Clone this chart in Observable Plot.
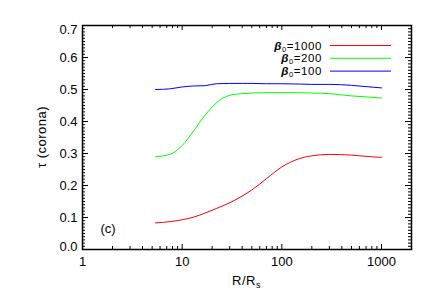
<!DOCTYPE html>
<html>
<head>
<meta charset="utf-8">
<script src="https://cdn.jsdelivr.net/npm/d3@7"></script>
<script src="https://cdn.jsdelivr.net/npm/@observablehq/plot@0.6"></script>
<style>
  html, body { margin: 0; padding: 0; background: #fff; }
  #chart svg { display: block; }
</style>
</head>
<body>
<div id="chart"></div>
<script>
// ---- data ----
const R = [5.4, 7.5, 10, 13, 17, 22, 30, 40, 50, 70, 100, 150, 200, 300, 500, 700, 1000];
const tauBeta1000 = [0.083, 0.087, 0.093, 0.101, 0.114, 0.128, 0.146, 0.167, 0.186, 0.221, 0.258, 0.284, 0.293, 0.297, 0.295, 0.291, 0.288];
const tauBeta200  = [0.290, 0.297, 0.325, 0.370, 0.420, 0.458, 0.482, 0.487, 0.489, 0.490, 0.490, 0.490, 0.489, 0.487, 0.480, 0.477, 0.473];
const tauBeta100  = [0.500, 0.502, 0.508, 0.511, 0.512, 0.518, 0.519, 0.519, 0.519, 0.518, 0.518, 0.517, 0.516, 0.516, 0.513, 0.509, 0.505];
const seriesNames = ["1000", "200", "100"];
const xTickValues = [1, 10, 100, 1000];
const yTickValues = [0.0, 0.1, 0.2, 0.3, 0.4, 0.5, 0.6, 0.7];
const panelLabel = "(c)";

// ---- layout / style ----
const W = 436, H = 300;
const M = {left: 82, right: 25, top: 25, bottom: 51};
const innerW = W - M.left - M.right, innerH = H - M.top - M.bottom;
const FONT = "'Liberation Sans', Arial, Helvetica, sans-serif";
const colors = ["#ff0000", "#00ff00", "#0000ff"];

const seriesValues = [tauBeta1000, tauBeta200, tauBeta100];
const rows = [];
seriesNames.forEach((s, i) => R.forEach((r, j) => rows.push({series: s, R: r, tau: seriesValues[i][j]})));

// minor tick positions (log decades, and 0.01 steps)
const xMinor = [];
for (const d of [1, 10, 100, 1000]) for (let k = 2; k <= 9; k++) if (d * k <= 2000) xMinor.push(d * k);
const yMinor = d3.range(0, 71).map(i => i / 100);

function decorations(index, scales, values, dims) {
  const g = d3.create("svg:g").attr("font-family", FONT).attr("font-size", 13).attr("fill", "black");
  const right = dims.width - dims.marginRight;
  // legend
  seriesNames.forEach((s, i) => {
    const y = dims.marginTop + 20.5 + i * 12.8;
    const t = g.append("text").attr("x", right - 89).attr("y", y + 4).attr("text-anchor", "end")
      .attr("font-size", 11.5).attr("letter-spacing", "0.6");
    t.append("tspan").attr("font-weight", "bold").attr("font-style", "italic").text("β");
    t.append("tspan").attr("font-size", 7.5).attr("dy", 2).text("0");
    t.append("tspan").attr("dy", -2).text("=" + s);
    g.append("line").attr("x1", right - 81).attr("x2", right - 20).attr("y1", y).attr("y2", y)
      .attr("stroke", colors[i]).attr("stroke-width", 1);
  });
  // x axis title
  const cx = (dims.marginLeft + right) / 2;
  const xt = g.append("text").attr("x", cx).attr("y", dims.height - 15).attr("text-anchor", "middle").attr("letter-spacing", "0.5");
  xt.append("tspan").text("R/R");
  xt.append("tspan").attr("font-size", 9).attr("dy", 3).text("s");
  // y axis title
  const cy = (dims.marginTop + dims.height - dims.marginBottom) / 2;
  const yt = g.append("text").attr("transform", `translate(46,${cy}) rotate(-90)`).attr("text-anchor", "middle").attr("letter-spacing", "0.5");
  yt.text("τ (corona)");
  return g.node();
}

const chart = Plot.plot({
  width: W, height: H,
  marginLeft: M.left, marginRight: M.right, marginTop: M.top, marginBottom: M.bottom,
  style: {fontFamily: FONT, fontSize: "13px", background: "white"},
  x: {type: "log", domain: [1, 2000], axis: null},
  y: {domain: [0, 0.7], axis: null},
  color: {domain: seriesNames, range: colors},
  marks: [
    Plot.line(rows, {x: "R", y: "tau", z: "series", stroke: "series", strokeWidth: 1, curve: "monotone-x"}),
    // ticks: bottom & top
    Plot.tickX(xTickValues, {x: d => d, insetTop: innerH - 5, stroke: "black"}),
    Plot.tickX(xTickValues, {x: d => d, insetBottom: innerH - 5, stroke: "black"}),
    Plot.tickX(xMinor, {x: d => d, insetTop: innerH - 3, stroke: "black"}),
    Plot.tickX(xMinor, {x: d => d, insetBottom: innerH - 3, stroke: "black"}),
    // ticks: left & right
    Plot.tickY(yMinor, {y: d => d, insetRight: innerW - 3, stroke: "black"}),
    Plot.tickY(yMinor, {y: d => d, insetLeft: innerW - 3, stroke: "black"}),
    Plot.tickY(yTickValues, {y: d => d, insetRight: innerW - 6, stroke: "black"}),
    Plot.tickY(yTickValues, {y: d => d, insetLeft: innerW - 6, stroke: "black"}),
    Plot.frame({stroke: "black", strokeWidth: 1.5}),
    // tick labels
    Plot.text(xTickValues, {x: d => d, frameAnchor: "bottom", dy: 16, text: d => String(d), fontSize: 13, letterSpacing: 0.5}),
    Plot.text(yTickValues.slice(1, -1), {y: d => d, frameAnchor: "left", dx: -5, textAnchor: "end", text: d => d.toFixed(1), fontSize: 13, letterSpacing: 0.5}),
    Plot.text(yTickValues.slice(-1), {y: d => d, frameAnchor: "left", dx: -5, dy: 4.5, textAnchor: "end", text: d => d.toFixed(1), fontSize: 13, letterSpacing: 0.5}),
    Plot.text(yTickValues.slice(0, 1), {y: d => d, frameAnchor: "left", dx: -5, dy: -3, textAnchor: "end", text: d => d.toFixed(1), fontSize: 13, letterSpacing: 0.5}),
    Plot.text([panelLabel], {frameAnchor: "bottom-left", dx: 18, dy: -17, text: d => d, fontSize: 13, textAnchor: "start", letterSpacing: 0.5}),
    decorations
  ]
});
document.getElementById("chart").appendChild(chart);
</script>
</body>
</html>
